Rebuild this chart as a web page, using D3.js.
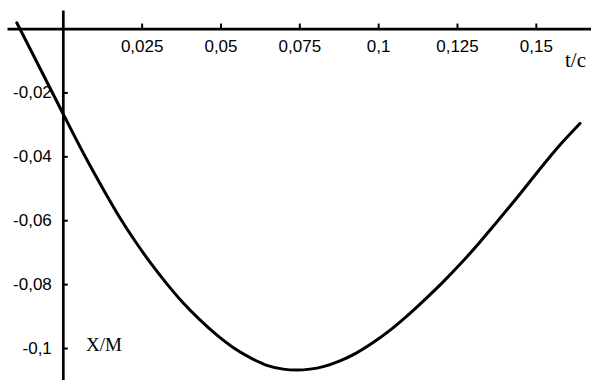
<!DOCTYPE html>
<html>
<head>
<meta charset="utf-8">
<script src="https://cdnjs.cloudflare.com/ajax/libs/d3/7.8.5/d3.min.js"></script>
<style>
  html, body { margin: 0; padding: 0; background: #fff; }
  svg { display: block; }
  .tick text { font-family: "Liberation Sans", Arial, sans-serif; font-size: 17px; fill: #000; }
  .title { font-family: "Liberation Serif", "Times New Roman", serif; fill: #000; }
</style>
</head>
<body>
<svg id="chart" width="591" height="380"></svg>
<script>
//

// time, s
const tValues = [
  -0.0146, -0.0072, 0.0000, 0.0070, 0.0134, 0.0181, 0.0229, 0.0277,
  0.0330, 0.0382, 0.0435, 0.0488, 0.0541, 0.0594, 0.0647, 0.0699,
  0.0743, 0.0784, 0.0826, 0.0879, 0.0932, 0.0984, 0.1038, 0.1091,
  0.1143, 0.1207, 0.1270, 0.1323, 0.1376, 0.1429, 0.1482, 0.1535,
  0.1587, 0.1640
]
// displacement, m
const xValues = [
  0.0018, -0.0125, -0.0265, -0.0399, -0.0513, -0.0592, -0.0665, -0.0732,
  -0.0799, -0.0859, -0.0912, -0.0959, -0.0999, -0.1030, -0.1054, -0.1066,
  -0.1069, -0.1066, -0.1058, -0.1040, -0.1015, -0.0983, -0.0944, -0.0900,
  -0.0853, -0.0792, -0.0727, -0.0668, -0.0606, -0.0543, -0.0478, -0.0413,
  -0.0353, -0.0297
]

const tTicks = [0.025, 0.05, 0.075, 0.1, 0.125, 0.15]
const xTicks = [-0.02, -0.04, -0.06, -0.08, -0.1]

const tDomain = [-0.0177, 0.1675]
const xDomain = [0.0058, -0.110]

//

const width = 591
const height = 380

const svg = d3.select('#chart')

const x = d3.scaleLinear()
  .domain(tDomain)
  .range([7, width])

const y = d3.scaleLinear()
  .domain(xDomain)
  .range([10, height])

const fmt = (d) => String(d).replace('.', ',')

const xAxis = d3.axisBottom(x)
  .tickValues(tTicks)
  .tickFormat(fmt)
  .tickSizeInner(-5)
  .tickSizeOuter(0)
  .tickPadding(11)

const yAxis = d3.axisLeft(y)
  .tickValues(xTicks)
  .tickFormat(fmt)
  .tickSizeInner(-5)
  .tickSizeOuter(0)
  .tickPadding(11)

const gx = svg.append('g')
  .attr('transform', `translate(0,${y(0)})`)
  .call(xAxis)

const gy = svg.append('g')
  .attr('transform', `translate(${x(0)},0)`)
  .call(yAxis)

for (const g of [gx, gy]) {
  g.attr('font-family', null).attr('font-size', null)
  g.select('.domain').attr('stroke', '#000').attr('stroke-width', 2.7)
  g.selectAll('.tick line').attr('stroke', '#000').attr('stroke-width', 2)
}

// curve
const line = d3.line()
  .x((d, i) => x(tValues[i]))
  .y((d) => y(d))
  .curve(d3.curveCatmullRom.alpha(0.5))

svg.append('path')
  .datum(xValues)
  .attr('fill', 'none')
  .attr('stroke', '#000')
  .attr('stroke-width', 3)
  .attr('stroke-linecap', 'round')
  .attr('d', line)

// axis titles
svg.append('text')
  .attr('class', 'title')
  .attr('x', 565)
  .attr('y', 67)
  .attr('font-size', 21)
  .text('t/c')

svg.append('text')
  .attr('class', 'title')
  .attr('x', 86)
  .attr('y', 351)
  .attr('font-size', 19)
  .text('Х/М')
</script>
</body>
</html>
